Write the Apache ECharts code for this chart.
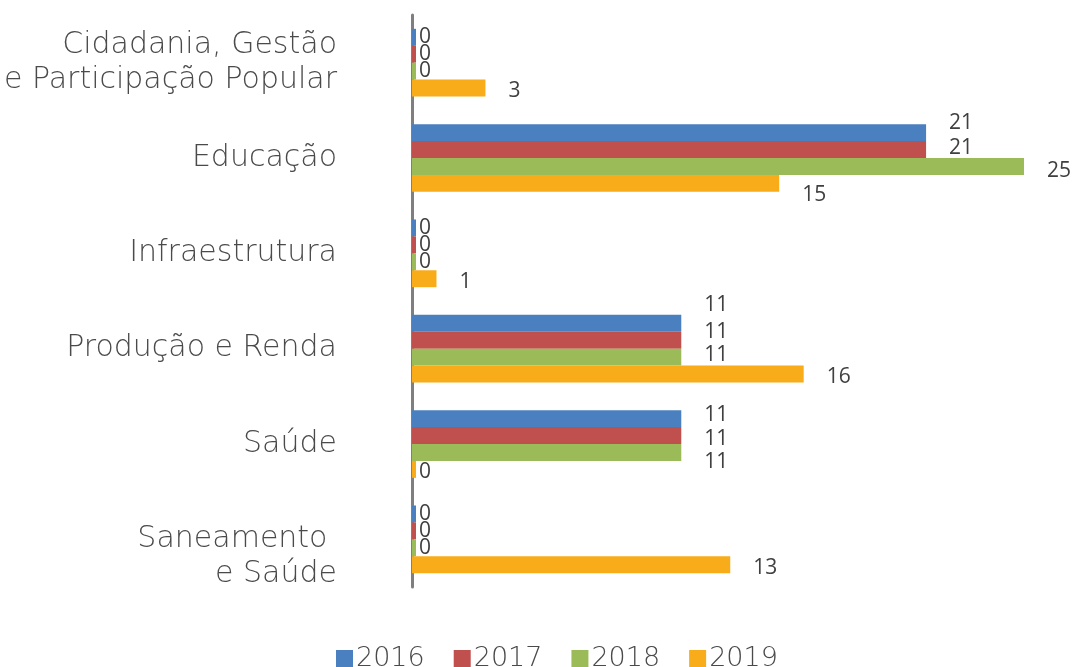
<!DOCTYPE html>
<html>
<head>
<meta charset="utf-8">
<script src="https://cdn.jsdelivr.net/npm/echarts@6/dist/echarts.min.js"></script>
<style>
  html, body { margin: 0; padding: 0; background: #fff; }
  #chart { width: 1072px; height: 667px; }
</style>
</head>
<body>
<div id="chart"></div>
<script>
// dados do grafico
var categorias = ['Cidadania, Gestão\ne Participação Popular', 'Educação', 'Infraestrutura',
  'Produção e Renda', 'Saúde', 'Saneamento \ne Saúde'];
var anos = ['2016', '2017', '2018', '2019'];
var v2016 = [0, 21, 0, 11, 11, 0];
var v2017 = [0, 21, 0, 11, 11, 0];
var v2018 = [0, 25, 0, 11, 11, 0];
var v2019 = [3, 15, 1, 16, 0, 13];

var cores = ['#4a80bf', '#c0504d', '#9bbb59', '#f9ac19'];
// ajuste vertical dos rotulos (no excel foram arrastados a mao)
var ajusteRotulo = [
  [0, -10, 0, -18, -4, 0],
  [0, -2, 0, -8, 3, 0],
  [0, 5, 0, -2, 10, 0],
  [3, 12, 3, 3, 3, 3]
];

function serie(nome, valores, i) {
  return {
    name: nome,
    type: 'bar',
    barGap: 0,
    barCategoryGap: '29%',
    barMinHeight: 4,
    itemStyle: { color: cores[i] },
    label: {
      show: true, position: 'right', distance: 3,
      color: '#404040', fontSize: 21, fontFamily: 'Open Sans'
    },
    data: valores.map(function (v, k) {
      return { value: v, label: { offset: [v === 0 ? 0 : 20, ajusteRotulo[i][k]] } };
    })
  };
}

var myChart = echarts.init(document.getElementById('chart'));
var option = {
  animation: false,
  grid: { left: 412, right: 48, top: 15, bottom: 80 },
  legend: {
    data: anos,
    left: 331, top: 640,
    itemWidth: 17, itemHeight: 17, itemGap: 29,
    icon: 'rect',
    textStyle: {
      color: '#4a4a4a', fontSize: 27, lineHeight: 27, fontFamily: 'DejaVu Sans',
      fontWeight: 200, padding: [0, 0, 0, -2]
    }
  },
  xAxis: {
    type: 'value', min: 0, max: 25,
    show: false, splitLine: { show: false }
  },
  yAxis: {
    type: 'category', inverse: true,
    data: categorias,
    axisTick: { show: false },
    axisLine: { show: true, lineStyle: { color: '#7f7f7f', width: 3 } },
    axisLabel: {
      margin: 75, color: '#4a4a4a', fontSize: 30, lineHeight: 35,
      fontFamily: 'DejaVu Sans', fontWeight: 200, align: 'right',
      // o ultimo rotulo fica mais baixo no original: linha vazia em cima
      formatter: function (v) { return v === categorias[5] ? '\n' + v : v; }
    }
  },
  series: [
    serie(anos[0], v2016, 0),
    serie(anos[1], v2017, 1),
    serie(anos[2], v2018, 2),
    serie(anos[3], v2019, 3)
  ]
};
myChart.setOption(option);
</script>
</body>
</html>
